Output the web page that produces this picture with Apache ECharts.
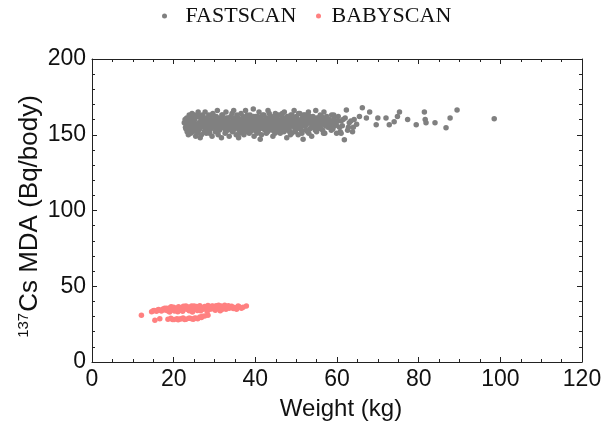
<!DOCTYPE html>
<html>
<head>
<meta charset="utf-8">
<script src="https://cdn.jsdelivr.net/npm/echarts@6/dist/echarts.min.js"></script>
<style>html,body{margin:0;padding:0;background:#fff}#c{width:607px;height:426px}</style>
</head>
<body>
<div id="c"></div>
<script>
const seriesNames = ['FASTSCAN', 'BABYSCAN'];
const xTicks = [0, 20, 40, 60, 80, 100, 120];
const yTicks = [0, 50, 100, 150, 200];

// [weight (kg), 137Cs MDA (Bq/body)]
const fastscan = [
[22.6,158],[22.9,155],[23.2,161],[23.4,153],[23.1,157],[23.8,163],[23.6,150],[24.0,159],[24.3,155],[24.1,161],[23.5,156],
[24.5,164],[24.7,152],[24.9,158],[25.2,160],[25.0,155],[25.4,149],[25.6,162],[25.8,157],[25.3,153],[26.0,165],[25.9,151],
[26.2,158],[26.4,154],[26.6,161],[26.8,150],[27.0,163],[27.1,156],[27.3,159],[27.5,152],[27.7,165],[27.9,157],[26.5,148],
[28.1,161],[28.3,154],[28.5,158],[28.6,163],[28.8,151],[29.0,156],[29.2,160],[29.4,149],[29.6,164],[29.8,155],[28.9,158],
[30.0,159],[30.2,152],[30.4,162],[30.5,156],[30.7,166],[30.9,150],[31.1,158],[31.3,154],[31.5,161],[31.7,148],[31.9,157],
[32.0,163],[32.2,155],[32.4,159],[32.6,151],[32.8,165],[33.0,157],[33.2,153],[33.4,161],[33.6,149],[33.8,158],[33.1,155],
[34.0,162],[34.2,156],[34.4,152],[34.5,160],[34.7,166],[34.9,154],[35.1,158],[35.3,150],[35.5,163],[35.7,156],[35.9,148],
[36.1,160],[36.3,155],[36.5,164],[36.6,152],[36.8,158],[37.0,162],[37.2,150],[37.4,157],[37.6,166],[37.8,154],[37.9,159],
[38.1,161],[38.3,156],[38.5,151],[38.7,163],[38.9,158],[39.1,154],[39.3,160],[39.5,167],[39.7,149],[39.9,157],
[40.1,162],[40.3,155],[40.5,159],[40.7,152],[40.9,165],[41.1,157],[41.3,161],[41.5,150],[41.7,158],[41.9,154],[41.2,147],
[42.1,163],[42.3,156],[42.5,160],[42.7,151],[42.9,158],[43.1,166],[43.3,153],[43.5,159],[43.7,155],[43.9,162],
[44.1,157],[44.3,149],[44.5,161],[44.7,154],[44.9,164],[45.1,158],[45.3,152],[45.5,160],[45.7,156],[45.9,163],[45.2,155],
[46.1,151],[46.3,159],[46.5,162],[46.7,155],[46.9,158],[47.1,165],[47.3,153],[47.5,160],[47.7,148],[47.9,157],
[48.1,161],[48.3,154],[48.5,158],[48.7,163],[48.9,151],[49.1,156],[49.3,160],[49.5,166],[49.7,153],[49.9,158],
[50.1,162],[50.3,155],[50.5,150],[50.7,159],[50.9,164],[51.1,157],[51.3,153],[51.5,161],[51.7,147],[51.9,158],
[52.1,163],[52.3,156],[52.5,160],[52.8,152],[53.0,165],[53.2,158],[53.4,154],[53.6,161],[53.8,149],[53.9,157],
[54.1,162],[54.3,155],[54.6,159],[54.8,166],[55.0,152],[55.2,158],[55.4,161],[55.7,156],[55.9,163],
[56.1,154],[56.3,160],[56.6,157],[56.8,165],[57.0,151],[57.3,159],[57.5,162],[57.8,155],
[58.1,160],[58.4,157],[58.7,163],[59.0,154],[59.3,161],[59.6,158],[59.9,151],
[60.3,162],[60.6,155],[61.0,159],[61.0,151],[61.8,146.7],[62.3,166.4],[61.5,160],
[22.8,160],[23.3,152],[23.9,157],[24.4,154],[24.8,161],[25.5,156],[26.1,153],[26.7,159],[27.2,162],[27.8,154],
[28.2,157],[28.7,152],[29.3,163],[29.9,159],[30.3,155],[30.8,161],[31.2,153],[31.6,157],[32.1,160],[32.5,154],
[33.0,161],[33.5,156],[34.1,158],[34.6,153],[35.0,161],[35.6,159],[36.0,153],[36.4,157],[36.9,155],[37.3,160],
[37.7,152],[38.2,158],[38.6,154],[39.0,161],[39.4,156],[39.8,153],[40.2,158],[40.6,162],[41.0,154],[41.6,160],
[42.0,157],[42.4,153],[42.8,161],[43.2,156],[43.8,158],[44.2,153],[44.6,159],[45.0,161],[45.6,154],[46.0,157],
[46.4,153],[46.8,161],[47.2,157],[47.6,155],[48.0,159],[48.4,152],[48.8,160],[49.2,157],[49.6,155],[50.0,161],
[50.4,157],[50.8,154],[51.2,160],[51.6,156],[52.0,159],[52.4,153],[52.9,158],[53.3,162],[53.7,155],[54.2,158],
[54.7,153],[55.1,161],[55.5,157],[56.0,158],[56.5,153],[57.1,161],[57.6,158],[58.3,155],[58.9,159],[59.5,156],
[23.0,154],[23.7,159],[24.2,151],[24.6,157],[25.1,163],[25.7,153],[26.3,156],[26.9,161],[27.4,155],[28.0,151],
[28.4,160],[29.1,154],[29.5,158],[30.1,162],[30.6,153],[31.0,156],[31.4,159],[31.8,163],[32.3,157],[32.7,152],
[33.3,159],[33.9,154],[34.3,164],[34.8,157],[35.2,155],[35.8,161],[36.2,151],[36.7,160],[37.1,156],[37.5,153],
[38.0,163],[38.4,159],[38.8,152],[39.2,157],[39.6,162],[40.0,155],[40.4,151],[40.8,160],[41.4,156],[41.8,163],
[42.2,159],[42.6,155],[43.0,152],[43.4,164],[43.6,158],[44.0,160],[44.4,156],[44.8,151],[45.4,163],[45.8,159],
[46.2,156],[46.6,164],[47.0,152],[47.4,159],[47.8,162],[48.2,156],[48.6,150],[49.0,163],[49.4,158],[49.8,152],
[50.2,159],[50.6,164],[51.0,155],[51.4,151],[51.8,163],[52.2,157],[52.6,163],[53.1,151],[53.5,159],[54.0,155],
[54.4,161],[54.9,157],[55.3,154],[55.8,160],[56.2,162],[56.7,151],[57.2,156],[57.9,160],[58.6,153],[59.2,163],
[59.8,157],[60.1,159],[60.8,152],[61.3,156],[62.0,161],[62.6,153],[63.4,159],[64.0,155],
[23.4,158],[24.5,159],[25.3,157],[26.2,162],[27.0,158],[27.6,160],[28.5,155],[29.3,157],[30.2,157],[31.0,160],
[31.9,155],[32.8,159],[33.7,157],[34.5,155],[35.4,157],[36.3,159],[37.2,158],[38.1,156],[39.0,158],[39.9,160],
[40.8,157],[41.7,156],[42.6,158],[43.5,157],[44.4,158],[45.3,157],[46.2,159],[47.1,160],[48.0,156],[48.9,158],
[49.8,157],[50.7,156],[51.6,158],[52.5,157],[53.4,159],[54.3,157],[55.2,155],[56.1,157],[57.0,158],[57.9,157],
[63.8,152],[65.5,162],[66.2,167.8],[67.2,161],[68.0,165],[69.6,156.6],[70.0,161],[72.0,161],[72.8,156.6],
[74.0,158.5],[74.8,162],[75.3,165],[77.3,160],[79.4,156.6],[81.8,158],[81.6,160],[81.4,165],[84.0,158],[86.7,154.6],
[87.7,161],[89.4,166.4],[98.5,160.5],[63.0,158],[64.2,160],[62.8,155],[64.8,157]
];

const babyscan = [
[12.1,30.8],[14.6,33.2],[15.2,34.0],[15.8,33.5],[16.3,34.6],[16.9,34.1],[17.4,35.0],[17.9,34.3],[18.3,35.4],[18.8,34.8],
[19.2,35.9],[19.6,34.5],[20.0,36.2],[20.4,35.1],[20.8,34.3],[21.2,36.5],[21.6,35.4],[22.0,34.6],[22.4,36.8],[22.8,35.7],
[23.2,34.9],[23.6,36.3],[24.0,35.2],[24.4,37.0],[24.8,35.9],[25.2,34.8],[25.6,36.6],[26.0,35.5],[26.4,37.2],[26.8,36.0],
[27.2,34.9],[27.6,36.7],[28.0,35.6],[28.4,37.3],[28.8,36.1],[29.2,35.0],[29.6,36.8],[30.0,35.7],[30.4,37.1],[30.8,36.2],
[31.2,35.2],[31.6,36.9],[32.0,35.8],[32.5,37.4],[33.0,36.3],[33.6,35.5],[34.2,36.8],[34.9,35.9],[35.4,34.9],[36.0,36.5],
[37.0,36.1],[37.8,36.9],[21.0,33.2],[24.6,33.0],[28.2,33.4],[31.4,33.8],[19.0,33.0],
[15.0,33.8],[16.0,34.2],[17.0,33.6],[17.8,35.5],[18.5,33.9],[19.4,36.4],[20.2,33.7],[21.4,34.0],[22.2,33.5],[23.0,36.9],
[23.8,33.8],[24.2,36.0],[25.0,36.9],[25.8,34.0],[26.6,33.8],[27.4,35.8],[28.6,34.6],[29.4,36.9],[30.2,34.2],[31.0,37.4],
[31.8,34.6],[32.8,34.9],[33.4,37.2],[34.6,35.3],[35.8,37.0],[36.6,35.4],
[15.4,27.6],[16.6,28.5],[18.6,28.3],[19.3,28.9],[20.1,28.1],[20.8,28.6],[21.5,28.4],[22.3,29.0],[23.0,28.2],[23.7,28.8],
[24.4,28.5],[25.2,29.1],[25.9,28.6],[26.4,29.7],[27.0,30.2],[19.7,28.0],[21.1,27.9],[21.9,28.6],[22.7,28.0],[24.0,28.9],
[24.8,28.2],[25.5,28.9],[26.8,29.3],[27.6,30.4],[28.4,30.8]
];

const chart = echarts.init(document.getElementById('c'), null, {renderer: 'canvas'});
const axisLine = {show: true, onZero: false, lineStyle: {color: '#222', width: 1}};
const tick = {inside: true, length: 5, lineStyle: {color: '#222'}};
const labelFont = {fontFamily: 'Liberation Sans', fontSize: 23, color: '#111'};
const legendText = {fontFamily: 'Liberation Serif', fontSize: 22, color: '#111'};
chart.setOption({
  animation: false,
  backgroundColor: '#fff',
  legend: [{
    top: 5, left: 162, padding: 0,
    data: [seriesNames[0]],
    icon: 'circle', itemWidth: 32, itemHeight: 5,
    textStyle: legendText
  }, {
    top: 5, left: 316, padding: 0,
    data: [seriesNames[1]],
    icon: 'circle', itemWidth: 16, itemHeight: 5,
    textStyle: legendText
  }],
  grid: {left: 92, right: 25, top: 59, bottom: 63},
  xAxis: [{
    type: 'value', min: xTicks[0], max: xTicks[xTicks.length - 1], interval: 20,
    axisLine, splitLine: {show: false}, axisTick: tick,
    minorTick: {show: true, splitNumber: 4, length: 3, lineStyle: {color: '#222'}},
    axisLabel: Object.assign({margin: 6}, labelFont),
    name: 'Weight (kg)', nameLocation: 'middle', nameGap: 35,
    nameTextStyle: {fontFamily: 'Liberation Sans', fontSize: 24, color: '#111', padding: [0, 0, 0, 8]}
  }, {
    type: 'value', position: 'top', min: xTicks[0], max: xTicks[xTicks.length - 1], interval: 20,
    axisLine, splitLine: {show: false}, axisLabel: {show: false}, axisTick: tick,
    minorTick: {show: true, splitNumber: 4, length: 3, lineStyle: {color: '#222'}}
  }],
  yAxis: [{
    type: 'value', min: yTicks[0], max: yTicks[yTicks.length - 1], interval: 50,
    axisLine, splitLine: {show: false}, axisTick: tick,
    minorTick: {show: true, splitNumber: 5, length: 3, lineStyle: {color: '#222'}},
    axisLabel: Object.assign({margin: 6}, labelFont),
    name: '{sup|137}{n|Cs MDA (Bq/body)}', nameLocation: 'middle', nameGap: 49, nameRotate: 90,
    nameMoveOverlap: false,
    nameTextStyle: {
      rich: {
        sup: {fontFamily: 'Liberation Sans', fontSize: 15, color: '#111', verticalAlign: 'top', padding: [0, 1, 12, 0]},
        n: {fontFamily: 'Liberation Sans', fontSize: 26, color: '#111', padding: [0, 12, 0, 0]}
      }
    }
  }, {
    type: 'value', position: 'right', min: yTicks[0], max: yTicks[yTicks.length - 1], interval: 50,
    axisLine, splitLine: {show: false}, axisLabel: {show: false}, axisTick: tick,
    minorTick: {show: true, splitNumber: 5, length: 3, lineStyle: {color: '#222'}}
  }],
  series: [{
    name: seriesNames[0], type: 'scatter', data: fastscan,
    symbolSize: 5.5, itemStyle: {color: '#808080', opacity: 1}
  }, {
    name: seriesNames[1], type: 'scatter', data: babyscan,
    symbolSize: 5.5, itemStyle: {color: '#ff8080', opacity: 1}
  }]
});
</script>
</body>
</html>
